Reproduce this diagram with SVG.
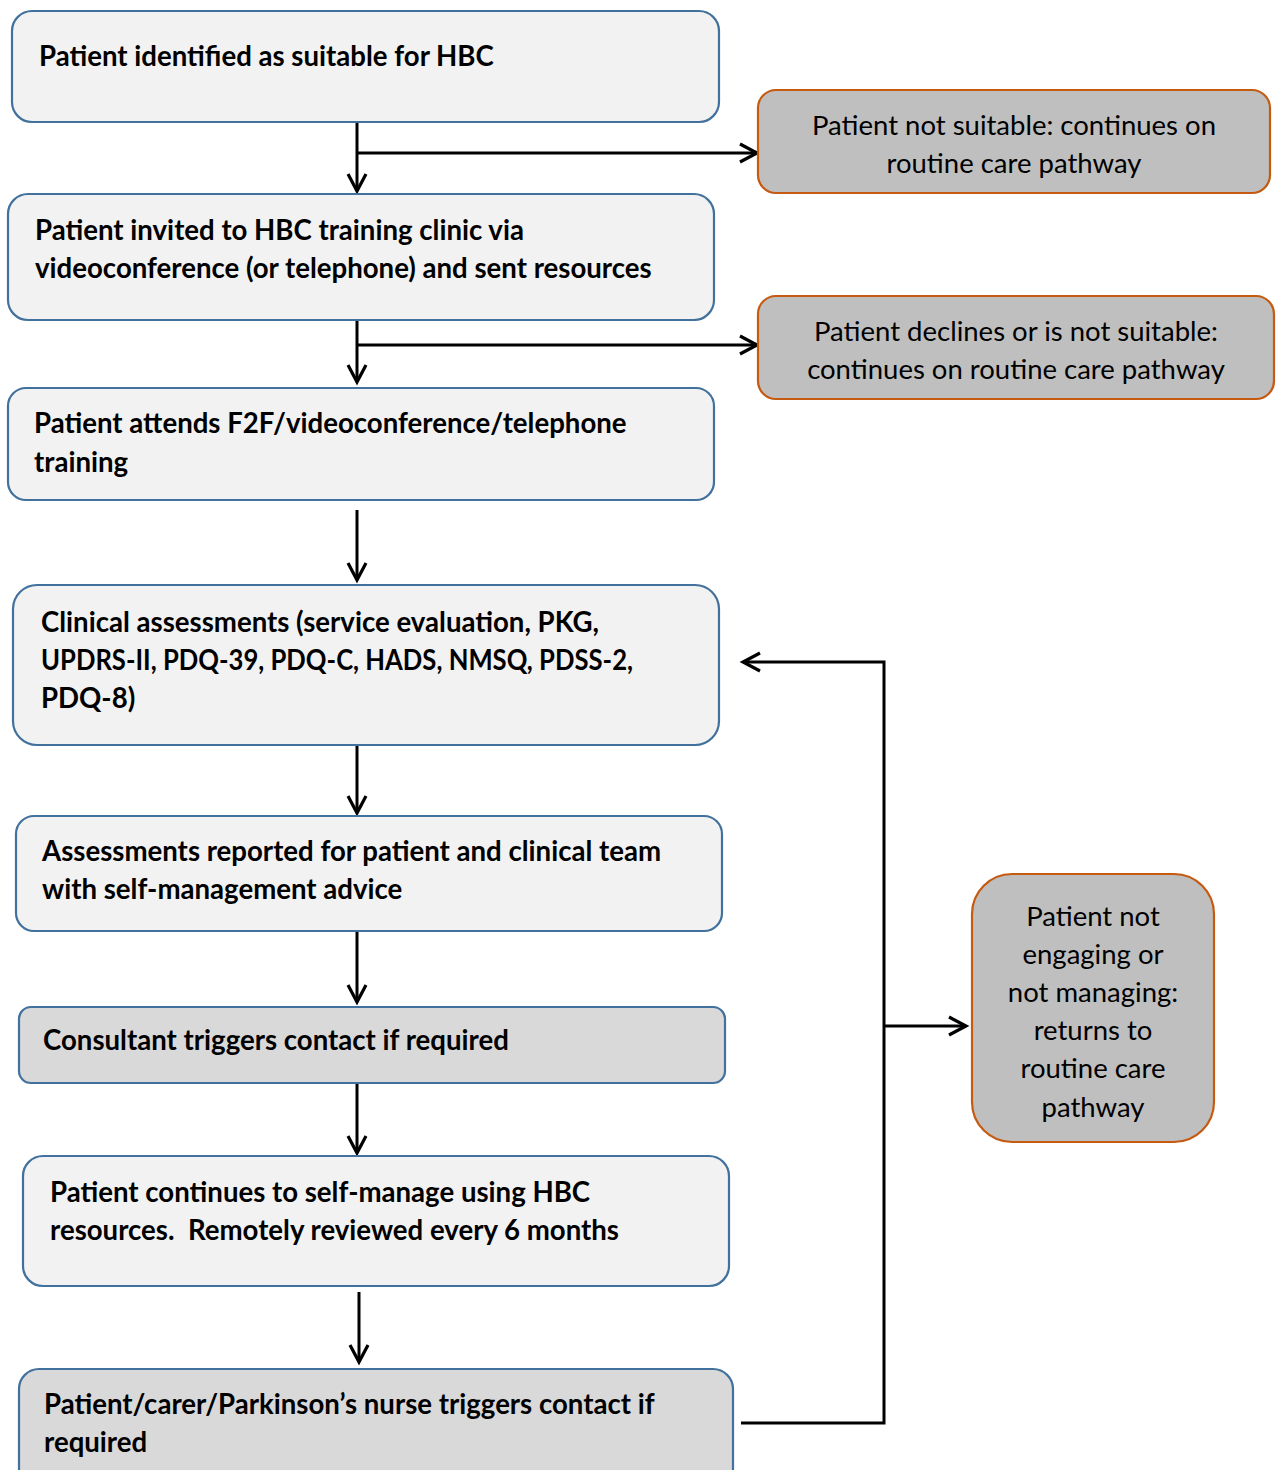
<svg xmlns="http://www.w3.org/2000/svg" width="1277" height="1470" viewBox="0 0 1277 1470">
<defs>
<style>
.main{fill:#f2f2f2;stroke:#41719c;stroke-width:2.2}
.dark{fill:#d9d9d9;stroke:#41719c;stroke-width:2.2}
.alt{fill:#bfbfbf;stroke:#c55a11;stroke-width:2.2}
.b{font-family:Lato,"Open Sans","Liberation Sans",sans-serif;font-weight:bold;font-size:27.6px;fill:#000}
.r{font-family:Lato,"Open Sans","Liberation Sans",sans-serif;font-size:27.5px;fill:#000;text-anchor:middle}
.c{fill:none;stroke:#000;stroke-width:3}
</style>
<marker id="ah" markerUnits="userSpaceOnUse" markerWidth="24" markerHeight="24" viewBox="0 0 24 24" refX="20" refY="12" orient="auto">
<path d="M3 3 L20 12 L3 21" fill="none" stroke="#000" stroke-width="3.2"/>
</marker>
</defs>
<rect width="1277" height="1470" fill="#fff"/>
<g id="connectors">
<path class="c" d="M357 122 V191" marker-end="url(#ah)"/>
<path class="c" d="M357 153 H757" marker-end="url(#ah)"/>
<path class="c" d="M357 320 V382" marker-end="url(#ah)"/>
<path class="c" d="M357 345 H757" marker-end="url(#ah)"/>
<path class="c" d="M357 510 V580" marker-end="url(#ah)"/>
<path class="c" d="M357 745 V813" marker-end="url(#ah)"/>
<path class="c" d="M357 931 V1002" marker-end="url(#ah)"/>
<path class="c" d="M357 1083 V1153" marker-end="url(#ah)"/>
<path class="c" d="M359 1292 V1362" marker-end="url(#ah)"/>
<path class="c" d="M741 1423 H884 V662 H743" marker-end="url(#ah)"/>
<path class="c" d="M884 1026 H966" marker-end="url(#ah)"/>
</g>
<g id="n1"><rect class="main" x="12" y="11" width="707" height="111" rx="20"/>
<text class="b" x="39" y="66">Patient identified as suitable for HBC</text></g>
<g id="n2"><rect class="alt" x="758" y="90" width="512" height="103" rx="18"/>
<text class="r" x="1014" y="135">Patient not suitable: continues on</text>
<text class="r" x="1014" y="173">routine care pathway</text></g>
<g id="n3"><rect class="main" x="8" y="194" width="706" height="126" rx="20"/>
<text class="b" x="35" y="240">Patient invited to HBC training clinic via</text>
<text class="b" x="35" y="278">videoconference (or telephone) and sent resources</text></g>
<g id="n4"><rect class="alt" x="758" y="296" width="516" height="103" rx="18"/>
<text class="r" x="1016" y="341">Patient declines or is not suitable:</text>
<text class="r" x="1016" y="379">continues on routine care pathway</text></g>
<g id="n5"><rect class="main" x="8" y="388" width="706" height="112" rx="18"/>
<text class="b" x="34" y="433">Patient attends F2F/videoconference/telephone</text>
<text class="b" x="34" y="472">training</text></g>
<g id="n6"><rect class="main" x="13" y="585" width="706" height="160" rx="24"/>
<text class="b" x="41" y="632">Clinical assessments (service evaluation, PKG,</text>
<text class="b" x="41" y="670" textLength="592" lengthAdjust="spacingAndGlyphs">UPDRS-II, PDQ-39, PDQ-C, HADS, NMSQ, PDSS-2,</text>
<text class="b" x="41" y="708">PDQ-8)</text></g>
<g id="n7"><rect class="main" x="16" y="816" width="706" height="115" rx="18"/>
<text class="b" x="42" y="861">Assessments reported for patient and clinical team</text>
<text class="b" x="42" y="899">with self-management advice</text></g>
<g id="n8"><rect class="dark" x="19" y="1007" width="706" height="76" rx="12"/>
<text class="b" x="43" y="1050">Consultant triggers contact if required</text></g>
<g id="n9"><rect class="main" x="23" y="1156" width="706" height="130" rx="20"/>
<text class="b" x="50" y="1202">Patient continues to self-manage using HBC</text>
<text class="b" x="50" y="1240" xml:space="preserve">resources.  Remotely reviewed every 6 months</text></g>
<g id="n10"><rect class="dark" x="19" y="1369" width="714" height="120" rx="20"/>
<text class="b" x="44" y="1414">Patient/carer/Parkinson’s nurse triggers contact if</text>
<text class="b" x="44" y="1452">required</text></g>
<g id="n11"><rect class="alt" x="972" y="874" width="242" height="268" rx="40"/>
<text class="r" x="1093" y="926">Patient not</text>
<text class="r" x="1093" y="964">engaging or</text>
<text class="r" x="1093" y="1002">not managing:</text>
<text class="r" x="1093" y="1040">returns to</text>
<text class="r" x="1093" y="1078">routine care</text>
<text class="r" x="1093" y="1117">pathway</text></g>
</svg>
